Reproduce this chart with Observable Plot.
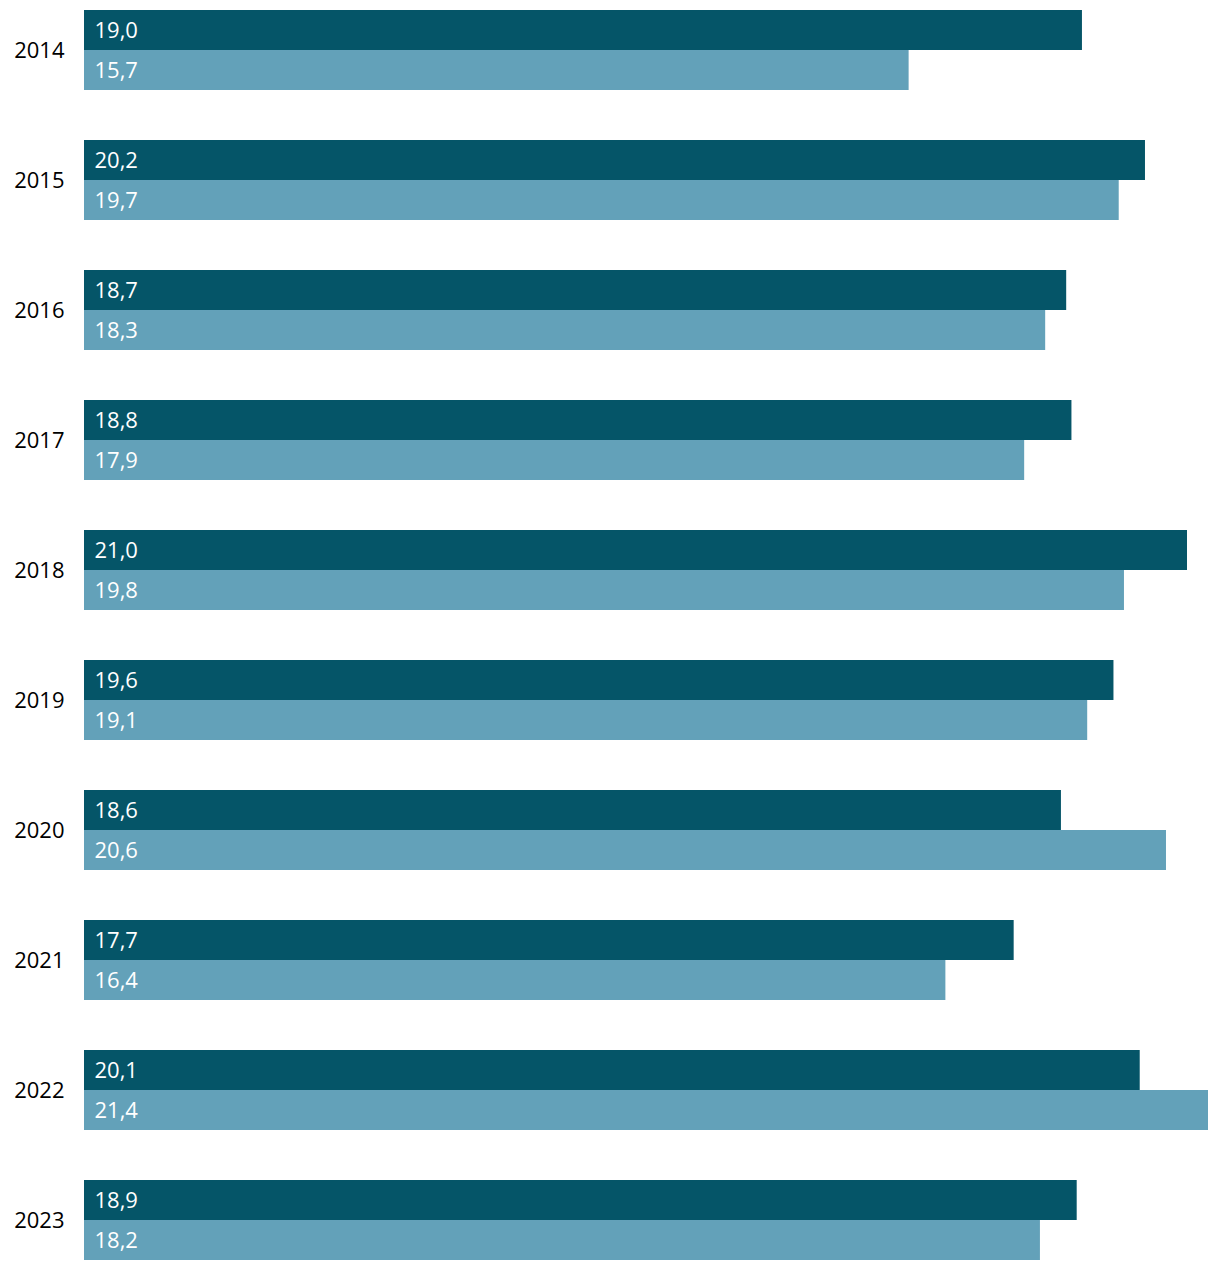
<!DOCTYPE html>
<html>
<head>
<meta charset="utf-8">
<script src="https://cdn.jsdelivr.net/npm/d3@7"></script>
<script src="https://cdn.jsdelivr.net/npm/@observablehq/plot@0.6"></script>
<style>
  body { margin: 0; background: #fff; }
  #chart svg { display: block; }
</style>
</head>
<body>
<div id="chart"></div>
<script>
const years = ["2014","2015","2016","2017","2018","2019","2020","2021","2022","2023"];
const seriesA = [19.0, 20.2, 18.7, 18.8, 21.0, 19.6, 18.6, 17.7, 20.1, 18.9];
const seriesB = [15.7, 19.7, 18.3, 17.9, 19.8, 19.1, 20.6, 16.4, 21.4, 18.2];

const dataA = years.map((y, i) => ({year: y, value: seriesA[i]}));
const dataB = years.map((y, i) => ({year: y, value: seriesB[i]}));
const fmt = v => v.toFixed(1).replace(".", ",");

const chart = Plot.plot({
  width: 1220,
  height: 1270,
  marginLeft: 84,
  marginRight: 12,
  marginTop: 10,
  marginBottom: 10,
  style: {fontFamily: "'Open Sans', sans-serif", fontSize: "22px", background: "#fff"},
  x: {axis: null, domain: [0, 21.4]},
  y: {domain: years, paddingInner: 50 / 130, paddingOuter: 0, label: null, tickSize: 0, tickPadding: 20},
  marks: [
    Plot.barX(dataA, {x: "value", y: "year", fill: "#055568", insetBottom: 40}),
    Plot.barX(dataB, {x: "value", y: "year", fill: "#63a1b9", insetTop: 40}),
    Plot.text(dataA, {x: 0, y: "year", text: d => fmt(d.value), dx: 10, dy: -20, textAnchor: "start", fill: "white", fontSize: 22}),
    Plot.text(dataB, {x: 0, y: "year", text: d => fmt(d.value), dx: 10, dy: 20, textAnchor: "start", fill: "white", fontSize: 22}),
    Plot.axisY({tickSize: 0, tickPadding: 20, fontSize: 22, fill: "black", label: null})
  ]
});
document.getElementById("chart").appendChild(chart);
</script>
</body>
</html>
